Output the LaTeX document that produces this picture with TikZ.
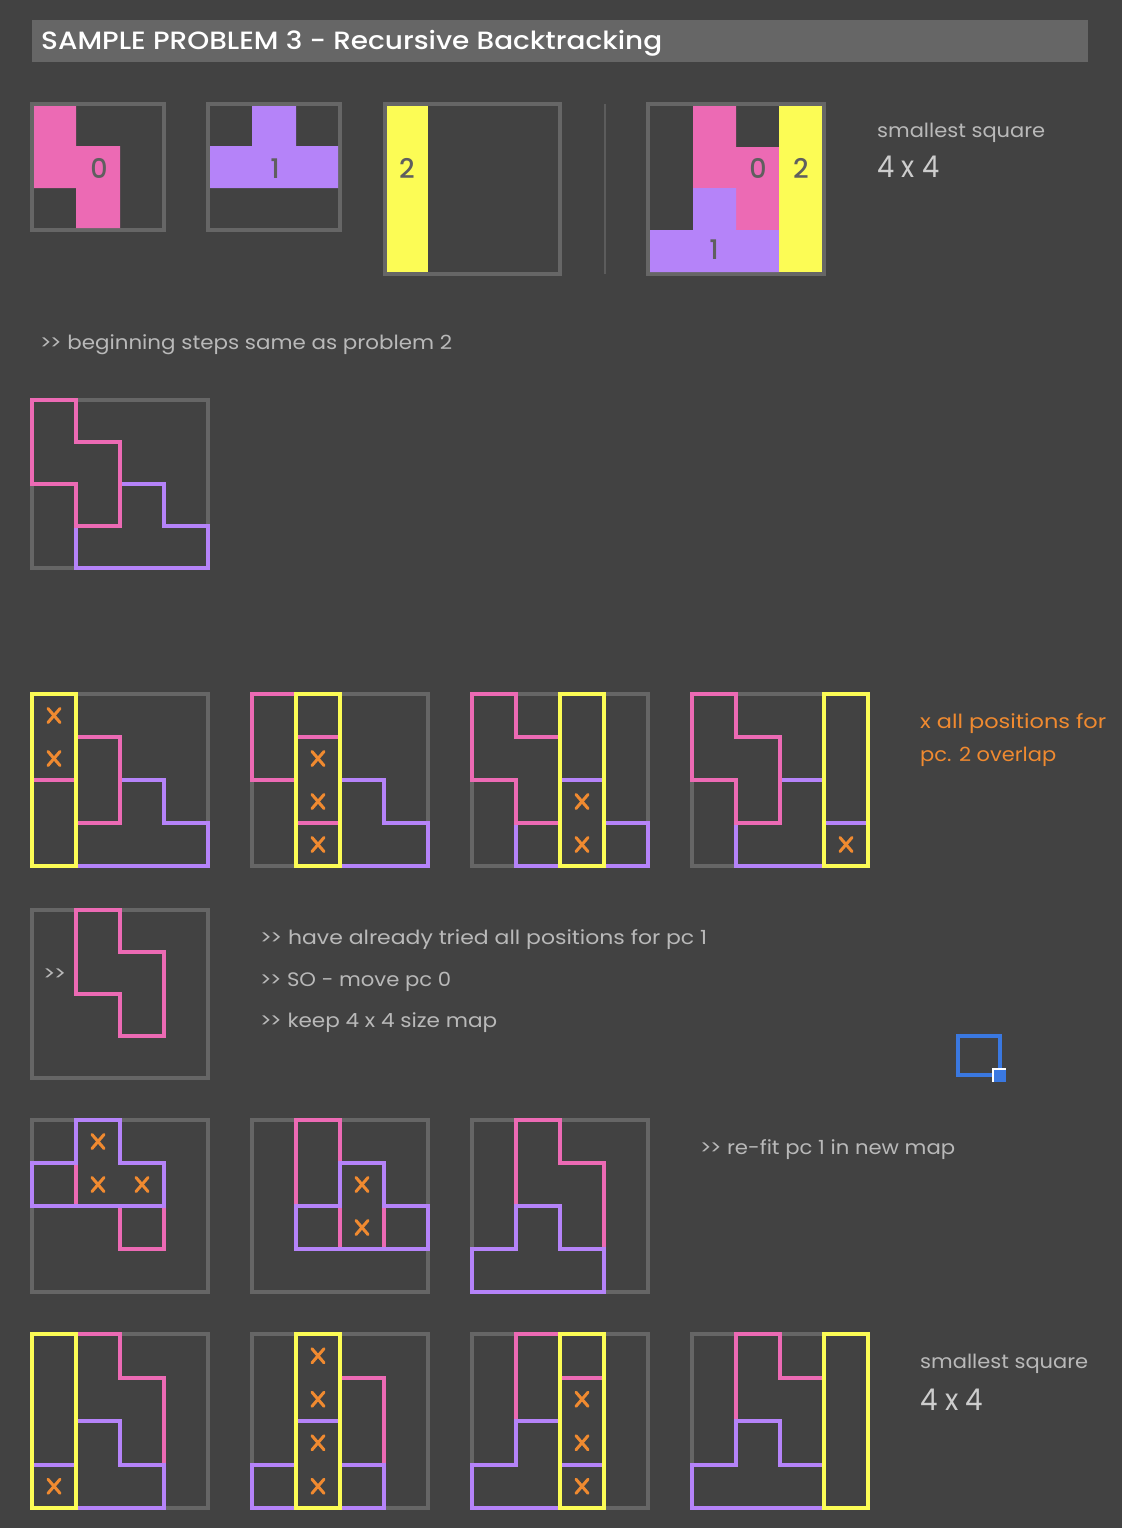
\documentclass[tikz,border=0pt]{standalone}
\usepackage{fontspec}
\setmainfont{Poppins}
\newfontfamily\titlefont{Poppins}[UprightFont={* Medium}]
\usepackage{graphicx}
\definecolor{bg}{RGB}{66,66,66}
\definecolor{framegray}{RGB}{102,102,102}
\definecolor{divgray}{RGB}{92,92,92}
\definecolor{pk}{RGB}{236,106,180}
\definecolor{pu}{RGB}{181,131,249}
\definecolor{ye}{RGB}{252,252,85}
\definecolor{orng}{RGB}{240,138,48}
\definecolor{txtgray}{RGB}{185,185,185}
\definecolor{txtlight}{RGB}{205,205,205}
\definecolor{digitgray}{RGB}{95,95,95}
\definecolor{selblue}{RGB}{58,120,224}
\newcommand\fitw[2]{\resizebox{#1}{\height}{#2}}
\newcommand\gbox[4]{\begin{scope}[shift={(#1,#2)}, x=44pt, y=-#3pt]#4\end{scope}}
\newcommand\gframe{\draw[framel] (0,0) rectangle (4,4);}
\newcommand\pinkS[1]{\draw[pinkl] (#1,0) -- ++(1,0) -- ++(0,1) -- ++(1,0) -- ++(0,2) -- ++(-1,0) -- ++(0,-1) -- ++(-1,0) -- cycle;}
\newcommand\purT[2]{\draw[purl] (#1,#2) -- ++(1,0) -- ++(0,1) -- ++(1,0) -- ++(0,1) -- ++(-3,0) -- ++(0,-1) -- ++(1,0) -- cycle;}
\newcommand\yelC[1]{\draw[yell] (#1,0) -- ++(1,0) -- ++(0,4) -- ++(-1,0) -- cycle;}
\newcommand\xm[2]{\pic at (#1+.5,#2+.5) {xmark};}
\newcommand\dblgt{>\kern-1.5pt>}
\tikzset{
  framel/.style={draw=framegray, line width=4pt},
  pinkl/.style={draw=pk, line width=4pt},
  purl/.style={draw=pu, line width=4pt},
  yell/.style={draw=ye, line width=4pt},
  xstroke/.style={draw=orng, line width=3pt, line cap=round},
  xmark/.pic={\draw[xstroke] (-6pt,-7pt) -- (6pt,7pt) (-6pt,7pt) -- (6pt,-7pt);},
  digit/.style={anchor=base, inner sep=0pt, text=digitgray, font=\fontsize{27}{30}\titlefont},
  txt/.style={anchor=base west, inner sep=0pt, text=txtgray, font=\fontsize{19.5}{23}\selectfont},
  bigtxt/.style={anchor=base west, inner sep=0pt, text=txtlight, font=\fontsize{30}{34}\selectfont},
  otxt/.style={anchor=base west, inner sep=0pt, text=orng, font=\fontsize{19.5}{23}\selectfont},
}
\begin{document}
\begin{tikzpicture}[x=1pt,y=-1pt]
\fill[bg] (0,0) rectangle (1122,1528);
\useasboundingbox (0,0) rectangle (1122,1528);
% title
\fill[framegray] (32,20) rectangle (1088,62);
\node[anchor=base west, inner sep=0pt, text=white, font=\fontsize{25}{28}\titlefont] (title) at (41,49) {\fitw{621pt}{SAMPLE PROBLEM 3 - Recursive Backtracking}};
% top row pieces
\draw[framel] (32,104) rectangle (164,230);
\fill[pk] (34,106) -- (76,106) -- (76,146) -- (120,146) -- (120,228) -- (76,228) -- (76,188) -- (34,188) -- cycle;
\node[digit] (d0) at (99,178) {0};
\draw[framel] (208,104) rectangle (340,230);
\fill[pu] (252,106) -- (296,106) -- (296,146) -- (338,146) -- (338,188) -- (210,188) -- (210,146) -- (252,146) -- cycle;
\node[digit] (d1) at (275,178) {1};
\draw[framel] (385,104) rectangle (560,274);
\fill[ye] (387,106) rectangle (428,272);
\node[digit] (d2) at (407,178) {2};
\draw[divgray, line width=2pt] (605,104) -- (605,274);
\draw[framel] (648,104) rectangle (824,274);
\fill[pk] (693,106) -- (736,106) -- (736,147) -- (779,147) -- (779,230) -- (736,230) -- (736,188) -- (693,188) -- cycle;
\fill[pu] (693,188) -- (736,188) -- (736,230) -- (779,230) -- (779,272) -- (650,272) -- (650,230) -- (693,230) -- cycle;
\fill[ye] (779,106) rectangle (822,272);
\node[digit] (c0) at (758,178) {0};
\node[digit] (c2) at (801,178) {2};
\node[digit] (c1) at (714,259) {1};
\node[txt] (ss1) at (877,137) {\fitw{168pt}{smallest square}};
\node[bigtxt] (sz1) at (877,177) {\fitw{62pt}{4 x 4}};
\node[txt] (beg) at (40,349) {\fitw{412pt}{\dblgt{} beginning steps same as problem 2}};
% row A
\gbox{32}{400}{42}{\gframe \purT{2}{2} \pinkS{0}}
% row B
\gbox{32}{694}{43}{\gframe \purT{2}{2} \pinkS{0} \yelC{0} \xm{0}{0} \xm{0}{1}}
\gbox{252}{694}{43}{\gframe \purT{2}{2} \pinkS{0} \yelC{1} \xm{1}{1} \xm{1}{2} \xm{1}{3}}
\gbox{472}{694}{43}{\gframe \purT{2}{2} \pinkS{0} \yelC{2} \xm{2}{2} \xm{2}{3}}
\gbox{692}{694}{43}{\gframe \purT{2}{2} \pinkS{0} \yelC{3} \xm{3}{3}}
\node[otxt] (ov1) at (920,728) {\fitw{186pt}{x all positions for}};
\node[otxt] (ov2) at (920,761) {\fitw{136pt}{pc. 2 overlap}};
% row C
\gbox{32}{910}{42}{\gframe \pinkS{1}}
\node[txt] (arr) at (43,980) {\fitw{23pt}{\dblgt}};
\node[txt] (l1) at (260,944) {\fitw{447pt}{\dblgt{} have already tried all positions for pc 1}};
\node[txt] (l2) at (260,986) {\fitw{191pt}{\dblgt{} SO - move pc 0}};
\node[txt] (l3) at (260,1027) {\fitw{237pt}{\dblgt{} keep 4 x 4 size map}};
\draw[selblue, line width=4pt] (958,1036) rectangle (1000,1075);
\fill[white] (992,1068) rectangle (1006,1082);
\fill[selblue] (994,1070) rectangle (1006,1082);
% row D
\gbox{32}{1120}{43}{\gframe \pinkS{1} \purT{1}{0} \xm{1}{0} \xm{1}{1} \xm{2}{1}}
\gbox{252}{1120}{43}{\gframe \pinkS{1} \purT{2}{1} \xm{2}{1} \xm{2}{2}}
\gbox{472}{1120}{43}{\gframe \pinkS{1} \purT{1}{2}}
\node[txt] (refit) at (700,1154) {\fitw{255pt}{\dblgt{} re-fit pc 1 in new map}};
% row E
\gbox{32}{1334}{43.5}{\gframe \pinkS{1} \purT{1}{2} \yelC{0} \xm{0}{3}}
\gbox{252}{1334}{43.5}{\gframe \pinkS{1} \purT{1}{2} \yelC{1} \xm{1}{0} \xm{1}{1} \xm{1}{2} \xm{1}{3}}
\gbox{472}{1334}{43.5}{\gframe \pinkS{1} \purT{1}{2} \yelC{2} \xm{2}{1} \xm{2}{2} \xm{2}{3}}
\gbox{692}{1334}{43.5}{\gframe \pinkS{1} \purT{1}{2} \yelC{3}}
\node[txt] (ss2) at (920,1368) {\fitw{168pt}{smallest square}};
\node[bigtxt] (sz2) at (920,1410) {\fitw{63pt}{4 x 4}};
\end{tikzpicture}
\end{document}
